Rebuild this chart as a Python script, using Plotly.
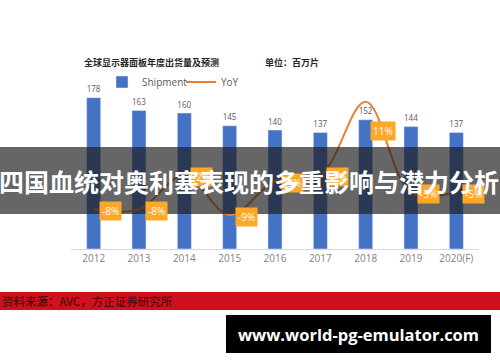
import plotly.graph_objects as go

years = ["2012", "2013", "2014", "2015", "2016", "2017", "2018", "2019", "2020(F)"]
shipment = [178, 163, 160, 145, 140, 137, 152, 144, 137]
yoy = [-8, -8, -2, -9, -3, -2, 11, -5, -5]
yoy_labels = ["-8%", "-8%", "-2%", "-9%", "-3%", "-2%", "11%", "-5%", "-5%"]

W, H = 500, 362
def px(v):
    return v / W
def py(v):
    return 1 - v / H

fig = go.Figure()
fig.add_trace(go.Bar(
    x=years, y=shipment, name="Shipment", marker_color="#4472C4", width=0.31,
    text=[str(v) for v in shipment], textposition="outside", cliponaxis=False,
    textfont=dict(size=10, color="#595959", family="Open Sans"),
))
fig.add_trace(go.Scatter(
    x=years, y=yoy, name="YoY", yaxis="y2", mode="lines",
    line=dict(color="#ED7D31", width=2, shape="spline", smoothing=1.0),
))

peak = max(yoy)
for i, (yv, lab) in enumerate(zip(yoy, yoy_labels)):
    fig.add_annotation(
        x=i, y=yv, xref="x", yref="y2", text=lab, showarrow=False,
        xshift=17, yshift=-29 if yv == peak else -2,
        bgcolor="#FFA726", font=dict(size=10, color="white", family="Open Sans"),
        borderpad=2,
    )

# titles
fig.add_annotation(x=px(82), y=py(62), xref="paper", yref="paper", xanchor="left", yanchor="middle",
                   text="<b>全球显示器面板年度出货量及预测</b>", showarrow=False,
                   font=dict(size=9, color="#262626", family="Noto Sans CJK SC"))
fig.add_annotation(x=px(263), y=py(62), xref="paper", yref="paper", xanchor="left", yanchor="middle",
                   text="<b>单位：百万片</b>", showarrow=False,
                   font=dict(size=9, color="#262626", family="Noto Sans CJK SC"))

# overlays
fig.add_shape(type="rect", xref="paper", yref="paper", x0=0, x1=1, y0=py(214), y1=py(147),
              fillcolor="rgba(30,30,30,0.68)", line_width=0, layer="above")
fig.add_annotation(x=0.497, y=py(181), xref="paper", yref="paper", xanchor="center", yanchor="middle",
                   text="<b>四国血统对奥利塞表现的多重影响与潜力分析</b>", showarrow=False,
                   font=dict(size=25, color="white", family="Noto Sans CJK SC"))
fig.add_shape(type="rect", xref="paper", yref="paper", x0=0, x1=1, y0=py(310), y1=py(292),
              fillcolor="#D0101C", line_width=0, layer="above")
fig.add_annotation(x=0, y=py(301), xref="paper", yref="paper", xanchor="left", yanchor="middle",
                   text="资料来源：AVC，方正证券研究所", showarrow=False,
                   font=dict(size=11.5, color="#3a0606", family="Noto Sans CJK SC"))
fig.add_shape(type="rect", xref="paper", yref="paper", x0=px(226), x1=px(491), y0=py(353), y1=py(315),
              fillcolor="black", line_width=0, layer="above")
fig.add_annotation(x=px(358), y=py(334), xref="paper", yref="paper", xanchor="center", yanchor="middle",
                   text="<b>www.world-pg-emulator.com</b>", showarrow=False,
                   font=dict(size=16.5, color="white", family="Open Sans"))

fig.update_layout(
    width=W, height=H, margin=dict(l=0, r=0, t=0, b=0, autoexpand=False),
    paper_bgcolor="white", plot_bgcolor="white", showlegend=True,
    legend=dict(orientation="h", x=px(102), y=py(82), xanchor="left", yanchor="middle",
                font=dict(size=10, color="#595959", family="Open Sans"),
                bgcolor="rgba(0,0,0,0)", entrywidth=34, entrywidthmode="pixels"),
    xaxis=dict(type="category", categoryorder="array", categoryarray=years,
               range=[-0.5, len(years) - 0.5], autorange=False,
               domain=[px(71), px(479)], showline=True, linecolor="#D9D9D9", linewidth=1,
               tickfont=dict(size=10, color="#7F7F7F", family="Open Sans"), ticks=""),
    yaxis=dict(domain=[py(249), py(79)], range=[0, 200], visible=False),
    yaxis2=dict(overlaying="y", range=[-15, 15], visible=False),
    bargap=0.5,
)

fig.write_html("out.html", config={"displayModeBar": False},
               post_script="document.body.style.margin='0';")
